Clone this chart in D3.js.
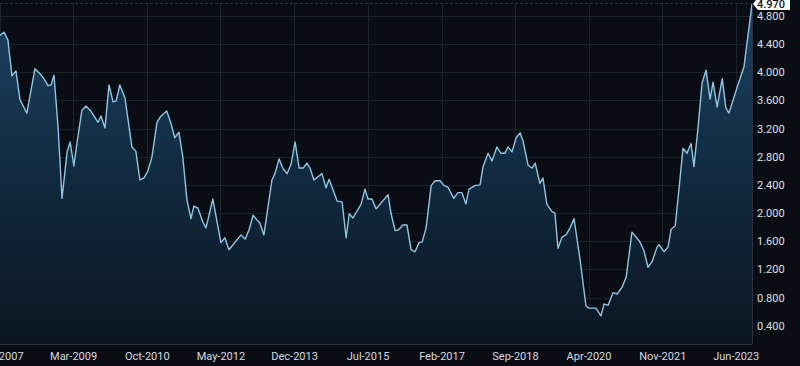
<!DOCTYPE html>
<html>
<head>
<meta charset="utf-8">
<script src="https://cdn.jsdelivr.net/npm/d3@7"></script>
<style>
html,body{margin:0;padding:0;background:#0a0d13;overflow:hidden;}
svg{display:block;}
text{font-family:Roboto,"Noto Sans",sans-serif;}
</style>
</head>
<body>
<svg id="chart" width="800" height="366"></svg>
<script>
const dates = ["2007-08-01","2007-09-05","2007-10-06","2007-11-07","2007-12-08","2008-01-09","2008-03-03","2008-05-05","2008-06-14","2008-07-07","2008-08-16","2008-09-09","2008-10-02","2008-11-03","2008-12-04","2009-01-13","2009-02-06","2009-03-07","2009-04-01","2009-05-09","2009-06-10","2009-07-19","2009-09-13","2009-10-06","2009-11-07","2009-12-08","2010-01-09","2010-02-02","2010-03-03","2010-04-12","2010-06-06","2010-07-07","2010-08-08","2010-09-09","2010-10-10","2010-11-11","2010-12-20","2011-01-21","2011-03-07","2011-04-08","2011-05-09","2011-06-10","2011-07-11","2011-08-12","2011-09-13","2011-10-06","2011-11-07","2011-12-16","2012-01-09","2012-03-03","2012-05-05","2012-06-06","2012-07-07","2012-08-08","2012-10-10","2012-11-11","2012-12-12","2013-01-13","2013-02-14","2013-03-07","2013-04-08","2013-06-10","2013-07-04","2013-08-05","2013-09-06","2013-10-07","2013-11-08","2013-12-09","2014-01-10","2014-02-11","2014-03-12","2014-04-05","2014-05-06","2014-07-08","2014-08-09","2014-09-02","2014-11-04","2014-12-13","2015-01-14","2015-02-07","2015-03-08","2015-05-10","2015-06-11","2015-07-04","2015-08-05","2015-09-06","2015-12-09","2016-01-02","2016-02-03","2016-02-27","2016-04-05","2016-05-06","2016-06-07","2016-07-08","2016-08-09","2016-09-02","2016-10-03","2016-11-12","2016-12-13","2017-01-21","2017-02-22","2017-03-23","2017-05-09","2017-06-10","2017-07-11","2017-08-12","2017-09-05","2017-10-22","2017-12-01","2017-12-24","2018-02-02","2018-03-04","2018-04-12","2018-05-13","2018-06-14","2018-07-08","2018-08-09","2018-09-10","2018-10-11","2018-11-04","2018-12-13","2019-01-14","2019-02-07","2019-03-16","2019-04-09","2019-05-10","2019-06-19","2019-07-12","2019-08-05","2019-09-06","2019-10-07","2019-11-08","2019-12-09","2020-01-26","2020-03-12","2020-04-05","2020-05-29","2020-07-08","2020-08-01","2020-09-02","2020-10-11","2020-11-12","2020-12-21","2021-01-22","2021-03-08","2021-04-09","2021-05-10","2021-06-11","2021-07-12","2021-08-13","2021-09-22","2021-10-07","2021-11-16","2021-12-17","2022-01-10","2022-02-11","2022-03-12","2022-04-13","2022-05-14","2022-06-15","2022-07-08","2022-08-09","2022-09-10","2022-10-11","2022-11-12","2022-12-05","2023-01-06","2023-02-15","2023-03-16","2023-04-09","2023-06-11","2023-08-05","2023-10-07"];
const values = [4.52,4.57,4.46,3.95,4.02,3.61,3.42,4.05,3.98,3.93,3.81,3.82,3.96,3.22,2.21,2.87,3.01,2.67,3.00,3.46,3.52,3.45,3.29,3.38,3.21,3.82,3.58,3.59,3.82,3.64,2.94,2.88,2.47,2.50,2.60,2.80,3.29,3.38,3.45,3.28,3.07,3.15,2.80,2.19,1.92,2.10,2.07,1.87,1.79,2.20,1.58,1.65,1.48,1.55,1.69,1.63,1.76,1.97,1.90,1.86,1.69,2.47,2.56,2.77,2.63,2.56,2.70,3.01,2.64,2.64,2.71,2.64,2.47,2.56,2.36,2.48,2.17,2.16,1.65,1.99,1.93,2.12,2.34,2.20,2.20,2.06,2.26,1.99,1.75,1.76,1.83,1.83,1.48,1.45,1.58,1.59,1.79,2.39,2.46,2.46,2.39,2.37,2.21,2.29,2.29,2.13,2.34,2.39,2.40,2.66,2.85,2.74,2.94,2.85,2.85,2.94,2.87,3.07,3.14,3.02,2.68,2.64,2.71,2.42,2.50,2.12,2.02,2.00,1.50,1.66,1.69,1.79,1.92,1.33,0.68,0.65,0.65,0.54,0.71,0.69,0.87,0.85,0.95,1.09,1.73,1.66,1.59,1.46,1.23,1.31,1.52,1.55,1.45,1.52,1.77,1.82,2.33,2.92,2.85,2.99,2.66,3.21,3.85,4.03,3.62,3.86,3.51,3.91,3.49,3.42,3.78,4.08,4.97];
const xTickLabels = ["Aug-2007","Mar-2009","Oct-2010","May-2012","Dec-2013","Jul-2015","Feb-2017","Sep-2018","Apr-2020","Nov-2021","Jun-2023"];
const yTicks = [0.4,0.8,1.2,1.6,2.0,2.4,2.8,3.2,3.6,4.0,4.4,4.8];
const lastLabel = "4.970";

const parse = d3.timeParse("%Y-%m-%d");
const parseTick = d3.timeParse("%b-%Y");
const data = dates.map((d,i)=>({date:parse(d), value:values[i]}));

const svg = d3.select("#chart");
const plotRight = 752, plotTop = 3, plotBottom = 344;

const x = d3.scaleTime().domain(d3.extent(data,d=>d.date)).range([-0.5, plotRight]);
const y = d3.scaleLinear().domain([0.4, 4.8]).range([325.7, 16]);

// background
svg.append("rect").attr("width",800).attr("height",366).attr("fill","#0a0d13");

const defs = svg.append("defs");
const grad = defs.append("linearGradient").attr("id","areaGrad")
  .attr("gradientUnits","userSpaceOnUse").attr("x1",0).attr("y1",0).attr("x2",0).attr("y2",plotBottom);
grad.append("stop").attr("offset",0).attr("stop-color","#1d4262");
grad.append("stop").attr("offset",0.5).attr("stop-color","#112a40");
grad.append("stop").attr("offset",1).attr("stop-color","#0b1621");

// grid
const tickDates = xTickLabels.map(parseTick);
svg.append("g").selectAll("line").data(yTicks).join("line")
  .attr("x1",0).attr("x2",plotRight)
  .attr("y1",d=>Math.round(y(d))+0.5).attr("y2",d=>Math.round(y(d))+0.5)
  .attr("stroke","#1a222d").attr("stroke-width",1);
svg.append("g").selectAll("line").data(tickDates).join("line")
  .attr("x1",d=>Math.round(x(d))+0.5).attr("x2",d=>Math.round(x(d))+0.5)
  .attr("y1",plotTop).attr("y2",plotBottom)
  .attr("stroke","#1a222d").attr("stroke-width",1);

// area + line
const area = d3.area().x(d=>x(d.date)).y0(plotBottom).y1(d=>y(d.value));
const line = d3.line().x(d=>x(d.date)).y(d=>y(d.value));
svg.append("path").datum(data).attr("d",area).attr("fill","url(#areaGrad)");
svg.append("path").datum(data).attr("d",line).attr("fill","none")
  .attr("stroke","#8fc6e2").attr("stroke-width",1.4).attr("stroke-linejoin","round");

// borders
svg.append("line").attr("x1",0).attr("x2",plotRight).attr("y1",plotBottom+0.5).attr("y2",plotBottom+0.5)
  .attr("stroke","#2a3440").attr("stroke-width",1);
svg.append("line").attr("x1",plotRight+0.5).attr("x2",plotRight+0.5).attr("y1",plotTop).attr("y2",plotBottom)
  .attr("stroke","#2a3440").attr("stroke-width",1);
svg.append("line").attr("x1",0).attr("x2",plotRight).attr("y1",plotTop+0.5).attr("y2",plotTop+0.5)
  .attr("stroke","#27313d").attr("stroke-width",1).attr("stroke-dasharray","3,2");

// x axis labels
const xAxis = d3.axisBottom(x).tickValues(tickDates).tickFormat(d3.timeFormat("%b-%Y")).tickSize(0).tickPadding(0);
const gx = svg.append("g").attr("transform",`translate(0,${plotBottom})`).call(xAxis);
gx.select(".domain").remove();
gx.selectAll("text").attr("fill","#d6dae0").attr("font-size",11).attr("font-family","Roboto, sans-serif")
  .attr("dy","1.05em").attr("y",4);

// y axis labels
const yAxis = d3.axisRight(y).tickValues(yTicks).tickFormat(d3.format(".3f")).tickSize(0).tickPadding(0);
const gy = svg.append("g").attr("transform",`translate(757,0)`).call(yAxis);
gy.select(".domain").remove();
gy.selectAll("text").attr("fill","#dde1e7").attr("font-size",11).attr("font-family","Roboto, sans-serif");

// last value label
const last = data[data.length-1];
const ly = y(last.value);
const lab = svg.append("g");
lab.append("path")
  .attr("d",`M${plotRight+1},${ly} L${plotRight+6},${ly-7} L790,${ly-7} L790,${ly+6} L${plotRight+6},${ly+6} Z`)
  .attr("fill","#ffffff");
lab.append("text").attr("x",757).attr("y",ly+4).attr("fill","#0b0e14")
  .attr("font-size",11).attr("font-weight",500).text(lastLabel);
</script>
</body>
</html>
